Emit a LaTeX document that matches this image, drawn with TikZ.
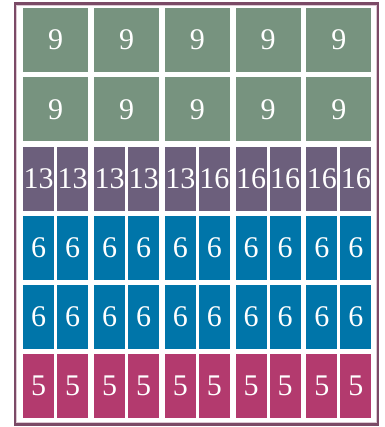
\documentclass[tikz,border=0pt]{standalone}
\usepackage{fontspec}
\setmainfont{Liberation Serif}
\usepackage{xcolor}
\definecolor{nineBack}  {HTML}{77937F}
\definecolor{teenBack}  {HTML}{6C5F7C}
\definecolor{sixBack}   {HTML}{0075A9}
\definecolor{fiveBack}  {HTML}{B33A6E}
\definecolor{frameLine} {HTML}{7B4A66}
\definecolor{frameInner}{HTML}{DCC8D2}
\tikzset{
    cell/.style={rectangle, inner sep=0pt, anchor=north west, text=white,
                 font=\fontsize{30}{30}\selectfont, minimum height=64pt},
    bigcell/.style={cell, minimum width=65pt},
    halfcell/.style={cell, minimum width=31pt},
}

\begin{document}
\begin{tikzpicture}[x=1pt, y=-1pt]
\useasboundingbox (0,0) rectangle (384,427);

% --- outer frame ---
\draw[frameInner, line width=0.8pt] (16.8,5.3) rectangle (376.2,422.7);
\draw[frameLine, line width=2.2pt] (15,3.5) rectangle (378,424.5);

% --- rows 1-2: full cells ---
\foreach \g in {1,...,5} {
    \pgfmathsetmacro\gx{23+70.8*(\g-1)}
    \foreach \r in {1,2}
        \node[bigcell, fill=nineBack] (nine-\r-\g) at ({\gx}, {8+69.2*(\r-1)}) {9};
}

% --- row 3: split cells ---
\foreach \g/\a/\b in {1/13/13, 2/13/13, 3/13/16, 4/16/16, 5/16/16} {
    \pgfmathsetmacro\gx{23+70.8*(\g-1)}
    \node[halfcell, fill=teenBack] (teen-\g-a) at ({\gx}, 146.4) {\a};
    \node[halfcell, fill=teenBack] (teen-\g-b) at ({\gx+34}, 146.4) {\b};
}

% --- rows 4-6: split cells ---
\foreach \r/\lbl/\col in {4/6/sixBack, 5/6/sixBack, 6/5/fiveBack} {
    \foreach \g in {1,...,5} {
        \pgfmathsetmacro\gx{23+70.8*(\g-1)}
        \pgfmathsetmacro\gy{8+69.2*(\r-1)}
        \node[halfcell, fill=\col] (c-\r-\g-a) at ({\gx}, {\gy}) {\lbl};
        \node[halfcell, fill=\col] (c-\r-\g-b) at ({\gx+34}, {\gy}) {\lbl};
    }
}
\end{tikzpicture}
\end{document}
